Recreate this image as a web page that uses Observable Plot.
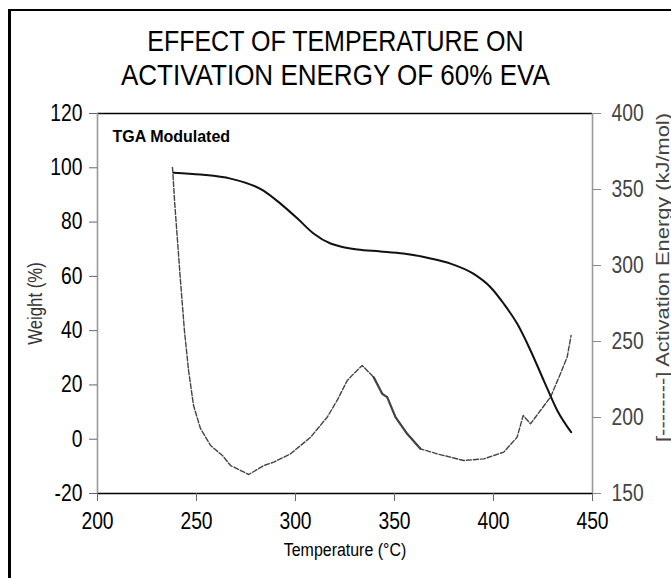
<!DOCTYPE html>
<html><head><meta charset="utf-8">
<script src="https://cdn.jsdelivr.net/npm/d3@7"></script>
<script src="https://cdn.jsdelivr.net/npm/@observablehq/plot@0.6"></script>
<style>
html,body{margin:0;padding:0;background:#fff;overflow:hidden;width:671px;height:578px}
#wrap{position:relative;width:671px;height:578px;overflow:hidden}
#frame{position:absolute;left:8px;top:9px;width:700px;height:620px;border-left:3px solid #000;border-top:2px solid #000}
.tl{position:absolute;left:0;width:671px;text-align:center;font-family:"Liberation Sans",Arial,sans-serif;font-size:29px;line-height:34px;color:#000;white-space:nowrap}
#t1{top:24px;transform:scaleX(0.862);transform-origin:335px 50%}
#t2{top:58px;transform:scaleX(0.897);transform-origin:334px 50%}
#chart{position:absolute;left:0;top:0}
</style></head><body>
<div id="wrap"><div id="frame"></div>
<div class="tl" id="t1">EFFECT OF TEMPERATURE ON</div>
<div class="tl" id="t2">ACTIVATION ENERGY OF 60% EVA</div>
<div id="chart"></div></div>
<script>
// Weight (%) curve, TGA modulated
const weightTemp = [238.5,252,267.2,283.8,292.4,301,309.1,317.7,322.7,331.3,342.9,354.5,368.2,378.3,390,398.5,405.2,412,418.7,425.4,432.2,439.2];
const weightPct  = [98.2,97.5,96.0,91.6,86.8,81.3,75.8,72.1,71.0,69.9,69.2,68.4,66.6,64.7,60.9,56.0,49.9,42.5,32.7,21.6,10.6,2.6];
// Activation energy (kJ/mol)
const energyTemp = [237.9,238.9,240.4,241.9,243.9,246.0,248.5,252.0,257.1,263.1,267.2,276.4,284.0,289.0,297.5,307.6,316.0,321.0,326.1,329.4,333.7,339.5,343.8,346.3,350.5,356.4,363.1,371.5,378.3,385.0,395.1,405.2,411.9,415.0,418.7,423.7,428.8,433.8,437.2,439.2];
const energyVal  = [364.5,342.8,316.4,290.1,257.2,230.9,207.9,192.8,181.6,175.0,168.4,162.5,168.4,170.6,176.1,187.0,200.2,211.2,224.3,228.8,234.2,226.5,215.6,213.4,200.2,189.3,179.4,176.1,173.9,171.7,172.8,177.2,187.0,201.3,195.9,204.6,213.4,228.8,239.7,254.0];
// tick labels
const xTicks = [200,250,300,350,400,450];
const weightTicks = [-20,0,20,40,60,80,100,120];
const energyTicks = [150,200,250,300,350,400];

const toW = e => -20 + (e - 150) * 140 / 250;
const fromW = w => 150 + (w + 20) * 250 / 140;
const wData = weightTemp.map((t, i) => ({t, v: weightPct[i]}));
const eData = energyTemp.map((t, i) => ({t, v: toW(energyVal[i])}));
const sans = '"Liberation Sans",Arial,sans-serif';
const energyLabel = "[--------] Activation Energy (kJ/mol)";

const chart = Plot.plot({
  width: 671, height: 578,
  marginTop: 113, marginBottom: 85, marginLeft: 97, marginRight: 79,
  style: {fontFamily: sans, background: "transparent", overflow: "visible"},
  x: {domain: [200, 450]},
  y: {domain: [-20, 120]},
  marks: [
    Plot.ruleY([-20, 120], {stroke: "#000", strokeWidth: 1.3}),
    Plot.ruleX([200, 450], {stroke: "#999", strokeWidth: 1.6}),
    Plot.axisX({ticks: xTicks, tickSize: 8, tickPadding: 11, fontSize: 23, label: null, tickFormat: d => String(d), stroke: "#666", fill: "#000"}),
    Plot.axisY({anchor: "left", ticks: weightTicks, tickSize: 8, tickPadding: 7, fontSize: 23, label: null, tickFormat: d => String(d), stroke: "#666", fill: "#000"}),
    Plot.axisY({anchor: "right", ticks: energyTicks.map(toW), tickSize: 8, tickPadding: 11, fontSize: 23, label: null, tickFormat: w => String(Math.round(fromW(w))), stroke: "#888", fill: "#444"}),
    Plot.text(["Temperature (°C)"], {frameAnchor: "bottom", dy: 56, lineAnchor: "middle", textAnchor: "middle", fontSize: 19, fill: "#000"}),
    Plot.text(["Weight (%)"], {frameAnchor: "left", dx: -62, rotate: -90, textAnchor: "middle", lineAnchor: "middle", fontSize: 20, fill: "#333"}),
    Plot.text([energyLabel], {frameAnchor: "right", dx: 70, dy: -26, rotate: -90, textAnchor: "middle", lineAnchor: "middle", fontSize: 19, fill: "#444"}),
    Plot.text(["TGA Modulated"], {frameAnchor: "top-left", dx: 15, dy: 23, textAnchor: "start", lineAnchor: "middle", fontSize: 16, fontWeight: "bold", fill: "#000"}),
    Plot.line(eData, {x: "t", y: "v", stroke: "#444", strokeWidth: 1.4, strokeDasharray: "5,2"}),
    Plot.line(eData.filter(d => d.t >= 339 && d.t <= 365), {x: "t", y: "v", stroke: "#444", strokeWidth: 2.2}),
    Plot.line(wData, {x: "t", y: "v", stroke: "#111", strokeWidth: 2, curve: "monotone-x"})
  ]
});
// lettering proportions of the original chart
d3.select(chart).selectAll("text").each(function() {
  const s = this.textContent;
  if (s === "TGA Modulated") return;
  const k = s === energyLabel ? "scale(1.15,1)" : "scale(0.84,1)";
  const t = this.getAttribute("transform") || "";
  this.setAttribute("transform", (t + " " + k).trim());
});
document.getElementById("chart").appendChild(chart);
</script>
</body></html>
